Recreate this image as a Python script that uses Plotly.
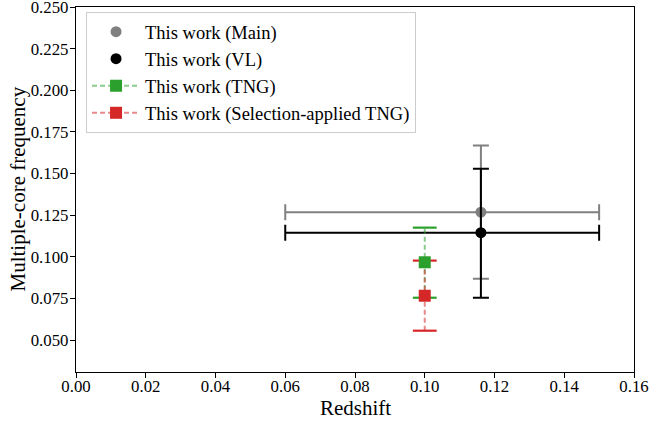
import plotly.graph_objects as go

# Observational measurements: redshift with range, multiple-core frequency with asymmetric errors
obs_names = ["This work (Main)", "This work (VL)"]
obs_colors = ["#808080", "#000000"]
obs_z = [0.1161, 0.1161]
obs_z_lo = [0.06, 0.06]
obs_z_hi = [0.15, 0.15]
obs_f = [0.1268, 0.1145]
obs_f_lo = [0.0868, 0.0754]
obs_f_hi = [0.1668, 0.1528]

# Simulation (TNG) measurements at z = 0.1
sim_names = ["This work (TNG)", "This work (Selection-applied TNG)"]
sim_colors = ["#2ca02c", "#d62728"]
sim_faint = ["rgba(44,160,44,0.55)", "rgba(214,39,40,0.55)"]
sim_z = [0.10, 0.10]
sim_f = [0.0967, 0.0766]
sim_f_lo = [0.0754, 0.0556]
sim_f_hi = [0.1175, 0.0977]

x_ticks = [0, 0.02, 0.04, 0.06, 0.08, 0.10, 0.12, 0.14, 0.16]
y_ticks = [0.05, 0.075, 0.1, 0.125, 0.15, 0.175, 0.2, 0.225, 0.25]

FONT = "Liberation Serif"
fig = go.Figure()

for name, c, z, zl, zh, f, fl, fh in zip(obs_names, obs_colors, obs_z, obs_z_lo,
                                         obs_z_hi, obs_f, obs_f_lo, obs_f_hi):
    fig.add_trace(go.Scatter(
        x=[z], y=[f], mode="markers", name=name,
        marker=dict(symbol="circle", size=11, color=c),
        error_x=dict(type="data", symmetric=False, array=[zh - z], arrayminus=[z - zl],
                     color=c, thickness=2, width=8),
        error_y=dict(type="data", symmetric=False, array=[fh - f], arrayminus=[f - fl],
                     color=c, thickness=2, width=8),
    ))

# Dashed stems for the simulation error bars
for c, fc, z, f, fl, fh in zip(sim_colors, sim_faint, sim_z, sim_f, sim_f_lo, sim_f_hi):
    fig.add_trace(go.Scatter(
        x=[z, z], y=[fl, fh], mode="lines", showlegend=False, hoverinfo="skip",
        line=dict(color=fc, width=2, dash="5px,3px"),
    ))

# Caps at both ends of each simulation error bar
for c, z, fl, fh in zip(sim_colors, sim_z, sim_f_lo, sim_f_hi):
    fig.add_trace(go.Scatter(
        x=[z, z], y=[fl, fh], mode="markers", showlegend=False, hoverinfo="skip",
        marker=dict(symbol="line-ew", size=17, line=dict(color=c, width=2.2)),
    ))

# Simulation point markers (legend entries show the dashed line style)
for name, c, fc, z, f in zip(sim_names, sim_colors, sim_faint, sim_z, sim_f):
    fig.add_trace(go.Scatter(
        x=[z], y=[f], mode="lines+markers", name=name,
        marker=dict(symbol="square", size=12, color=c),
        line=dict(color=fc, width=2, dash="5px,3px"),
    ))

axis_common = dict(
    showline=True, linecolor="black", linewidth=1.3, mirror=True,
    ticks="outside", ticklen=5, tickwidth=1.2, tickcolor="black",
    showgrid=False, zeroline=False, automargin=False,
    ticklabeloverflow="allow",
    tickfont=dict(family=FONT, size=16.8, color="black"),
)

fig.update_layout(
    width=649, height=422,
    margin=dict(l=76, r=15, t=7, b=50),
    plot_bgcolor="white", paper_bgcolor="white",
    font=dict(family=FONT, color="black"),
    xaxis=dict(range=[0, 0.16], tickvals=x_ticks, tickformat=".2f",
               ticklabelstandoff=-6, **axis_common),
    yaxis=dict(range=[0.0308, 0.25], tickvals=y_ticks, tickformat=".3f",
               ticklabelstandoff=-2, **axis_common),
    legend=dict(x=0.018, y=0.986, xanchor="left", yanchor="top",
                bgcolor="rgba(255,255,255,0.8)", bordercolor="#cccccc", borderwidth=1,
                font=dict(family=FONT, size=18.5, color="black"),
                itemwidth=48, tracegroupgap=0),
    showlegend=True,
    annotations=[
        dict(text="Redshift", xref="paper", yref="paper", x=0.5, y=0,
             xanchor="center", yanchor="middle", yshift=-36, showarrow=False,
             font=dict(family=FONT, size=21, color="black")),
        dict(text="Multiple-core frequency", xref="paper", yref="paper", x=0, y=0.5,
             xanchor="center", yanchor="middle", xshift=-59, textangle=-90, showarrow=False,
             font=dict(family=FONT, size=21, color="black")),
    ],
)

fig.write_html("out.html")
